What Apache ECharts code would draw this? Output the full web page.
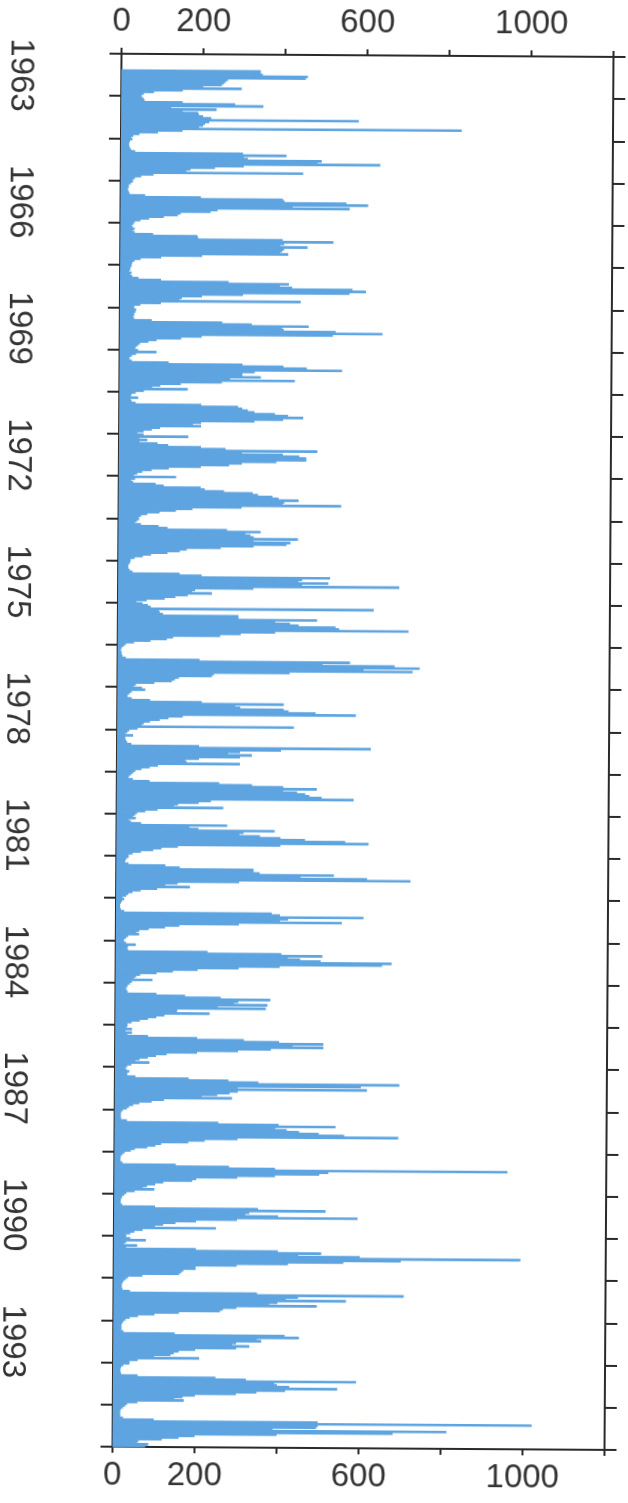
<!DOCTYPE html>
<html>
<head>
<meta charset="utf-8">
<script src="https://cdn.jsdelivr.net/npm/echarts@6/dist/echarts.min.js"></script>
<style>
html,body{margin:0;padding:0;background:#ffffff;}
#c{width:628px;height:1503px;transform:rotate(0.37deg);transform-origin:50% 50%;}
</style>
</head>
<body>
<div id="c"></div>
<script>
// Time axis: 33 years, 24 half-month periods per year
const years = [1963,1964,1965,1966,1967,1968,1969,1970,1971,1972,1973,1974,1975,1976,1977,1978,1979,1980,1981,1982,1983,1984,1985,1986,1987,1988,1989,1990,1991,1992,1993,1994,1995];
const periodsPerYear = 24;
const yearTickLabels = [1963,1966,1969,1972,1975,1978,1981,1984,1987,1990,1993];
const flowTickLabels = [0,200,600,1000];

// Half-monthly discharge values
const y1963 = [null,null,null,null,null,null,null,null,null,340,340,345,455,450,260,255,250,245,200,294,150,80,55,50];
const y1964 = [50,55,57,150,278,347,122,233,150,188,190,200,220,580,215,205,200,190,831,150,90,45,30,25];
const y1965 = [28,22,20,20,20,22,25,35,298,404,300,310,490,480,633,300,230,170,160,445,80,50,35,30];
const y1966 = [30,25,20,20,18,18,20,22,60,196,396,400,551,604,420,559,237,220,147,140,106,70,49,35];
const y1967 = [32,28,30,35,30,35,80,188,190,396,520,400,390,457,400,395,390,410,200,100,50,35,30,28];
const y1968 = [28,25,25,22,28,25,30,45,100,265,412,390,420,567,600,560,300,200,151,145,441,100,50,35];
const y1969 = [35,40,38,35,35,32,35,78,250,322,461,396,400,527,641,520,200,150,90,70,50,45,40,38];
const y1970 = [45,90,40,30,25,24,30,120,300,400,457,543,330,300,300,345,270,428,250,150,100,80,167,60];
const y1971 = [40,30,28,46,28,30,40,200,290,300,314,330,380,412,449,400,330,200,180,200,100,80,60,45];
const y1972 = [60,169,50,69,50,94,120,200,260,484,300,400,440,457,457,384,300,269,200,122,80,57,45,37];
const y1973 = [140,40,30,35,90,110,200,210,257,327,340,375,390,439,404,400,543,300,180,140,100,70,55,50];
const y1974 = [50,45,40,55,98,120,265,347,310,322,330,438,330,420,410,330,250,167,150,120,80,60,40,30];
const y1975 = [30,28,25,24,25,28,35,150,204,517,449,440,513,449,686,330,188,180,229,170,140,114,70,45];
const y1976 = [60,73,80,624,100,102,110,294,294,486,384,420,441,531,540,709,384,300,250,135,120,80,40,20];
const y1977 = [15,10,8,8,10,10,12,20,200,567,500,676,737,600,720,420,235,230,150,140,133,90,45,40];
const y1978 = [60,68,35,30,25,25,35,80,206,406,288,300,406,418,484,582,160,125,104,80,65,60,431,50];
const y1979 = [30,25,20,39,20,20,22,25,35,200,619,400,300,271,329,300,200,166,170,300,100,80,60,45];
const y1980 = [40,35,30,28,39,80,250,330,406,488,406,440,460,470,500,578,230,200,150,140,260,100,70,50];
const y1981 = [45,40,47,30,35,60,270,178,200,386,310,300,350,400,460,558,615,400,150,110,90,60,40,30];
const y1982 = [30,25,22,22,30,120,155,335,335,350,531,450,612,718,300,150,120,180,100,60,40,30,25,15];
const y1983 = [20,15,12,10,10,10,12,20,380,400,604,420,400,551,300,155,120,80,57,50,57,30,25,20];
const y1984 = [20,25,49,30,28,30,224,404,504,420,450,500,673,650,400,300,200,140,100,60,50,45,90,40];
const y1985 = [35,30,28,25,28,30,100,170,257,378,300,290,371,250,367,151,150,230,120,100,80,60,40,30];
const y1986 = [30,28,41,25,41,30,80,200,314,400,508,433,508,380,300,200,126,100,80,60,50,84,40,30];
const y1987 = [25,28,35,30,30,50,180,277,350,694,600,300,615,300,280,250,212,286,120,90,60,45,35,30];
const y1988 = [20,16,15,15,15,16,30,253,400,539,392,420,450,498,560,692,300,220,180,114,100,80,50,40];
const y1989 = [25,20,16,15,15,15,20,150,280,392,959,522,500,392,300,200,190,120,100,80,70,98,50,30];
const y1990 = [25,20,18,16,16,16,20,100,351,516,330,320,400,594,300,200,150,120,100,249,70,50,40,30];
const y1991 = [30,40,78,30,25,57,30,200,400,506,450,600,992,700,560,425,300,200,200,170,165,160,70,35];
const y1992 = [30,25,22,20,20,20,22,40,350,708,450,420,567,400,380,496,300,267,260,160,100,60,40,30];
const y1993 = [25,22,20,20,20,20,25,150,418,453,350,361,300,290,332,300,200,160,148,140,100,210,60,40];
const y1994 = [40,25,20,18,18,18,20,60,250,324,593,393,400,430,547,420,350,300,200,170,150,173,60,35];
const y1995 = [30,25,20,18,18,18,18,25,100,500,1022,500,496,390,814,683,400,200,161,120,63,60,87,80];

const flowsByYear = [y1963,y1964,y1965,y1966,y1967,y1968,y1969,y1970,y1971,y1972,y1973,y1974,y1975,y1976,y1977,y1978,y1979,y1980,y1981,y1982,y1983,y1984,y1985,y1986,y1987,y1988,y1989,y1990,y1991,y1992,y1993,y1994,y1995];

const periods = [];
const flowData = [];
years.forEach((yr, i) => {
  flowsByYear[i].forEach((v, p) => {
    flowData.push([v === null ? '-' : v, periods.length]);
    periods.push(yr + '-' + p);
  });
});

const ink = '#2a2a2a';
const textColor = '#333333';
const font = 'Liberation Sans, Arial, Helvetica, sans-serif';
const fill = '#5ea4e0';

const yBase = {
  type: 'category',
  data: periods,
  inverse: true,
  boundaryGap: true,
  axisLine: {show: true, onZero: false, lineStyle: {color: ink, width: 2}},
  axisTick: {show: true, inside: false, length: 12, interval: (i) => i % periodsPerYear === 0, lineStyle: {color: ink, width: 2}},
  splitLine: {show: false}
};

const xBase = {
  type: 'value',
  min: 0,
  max: 1200,
  interval: 200,
  splitLine: {show: false},
  axisLine: {show: true, onZero: false, lineStyle: {color: ink, width: 2}},
  axisTick: {show: true, inside: false, length: 6, lineStyle: {color: ink, width: 2}}
};
const xLabel = {
  fontSize: 33,
  color: textColor,
  fontFamily: font,
  showMaxLabel: true,
  showMinLabel: true,
  formatter: (v) => flowTickLabels.includes(v) ? String(v) : ''
};

// Each period is drawn as a horizontal bar from 0 to its value, using the axes' own scales;
// bars overlap by a fraction of a pixel so no seams appear between neighbours.
function renderPeriod(params, api) {
  const v = api.value(0);
  if (v === null || v === undefined || isNaN(v)) return null;
  const idx = api.value(1);
  const start = api.coord([0, idx]);
  const end = api.coord([v, idx]);
  const band = api.size([0, 1])[1];
  return {
    type: 'rect',
    shape: {x: start[0], y: start[1] - band / 2 - 0.45, width: end[0] - start[0], height: band + 0.9},
    style: {fill: fill}
  };
}

const chart = echarts.init(document.getElementById('c'), null, {renderer: 'canvas'});
chart.setOption({
  animation: false,
  backgroundColor: '#ffffff',
  grid: {left: 115, right: 19, top: 55, bottom: 55, containLabel: false},
  xAxis: [
    Object.assign({}, xBase, {position: 'bottom', axisLabel: Object.assign({}, xLabel, {margin: 12})}),
    Object.assign({}, xBase, {position: 'top', axisLabel: Object.assign({}, xLabel, {margin: 16})})
  ],
  yAxis: [
    Object.assign({}, yBase, {
      position: 'left',
      axisLabel: {
        show: true,
        interval: (i) => i % (periodsPerYear * 3) === 12,
        rotate: -90,
        margin: 84,
        fontSize: 33,
        color: textColor,
        fontFamily: font,
        formatter: (v) => {
          const yr = Number(v.split('-')[0]);
          return yearTickLabels.includes(yr) ? String(yr) : '';
        }
      }
    }),
    Object.assign({}, yBase, {position: 'right', axisLabel: {show: false}})
  ],
  series: [{
    type: 'custom',
    coordinateSystem: 'cartesian2d',
    xAxisIndex: 0,
    yAxisIndex: 0,
    data: flowData,
    encode: {x: 0, y: 1},
    renderItem: renderPeriod,
    silent: true,
    z: 1
  }]
});
</script>
</body>
</html>
